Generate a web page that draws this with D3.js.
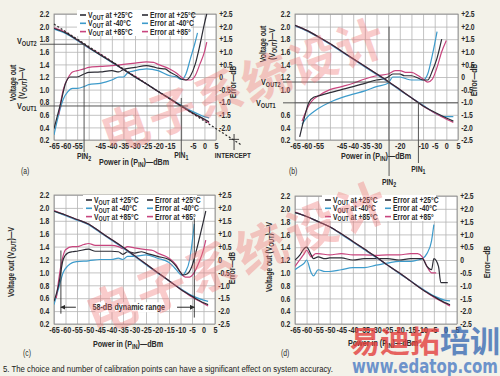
<!DOCTYPE html>
<html><head><meta charset="utf-8">
<script src="https://cdn.jsdelivr.net/npm/d3@7"></script>
<style>
body{margin:0;background:#f3f2e9;}
svg{display:block;font-family:"Liberation Sans",Arial,sans-serif;}
</style></head><body>
<svg id="fig" width="500" height="376"></svg>
<script>
// axes values
const xDomain = [-65, 5];
const vDomain = [0.2, 2.2];
const eDomain = [-2.5, 2.5];
const gridX = [-65,-60,-55,-50,-45,-40,-35,-30,-25,-20,-15,-10,-5,0,5];
const gridV = [0.2,0.4,0.6,0.8,1.0,1.2,1.4,1.6,1.8,2.0,2.2];
const gridE = [-2.5,-2,-1.5,-1,-0.5,0,0.5,1,1.5,2,2.5];

const xTicksA = [-65,-60,-55,-45,-40,-35,-30,-25,-20,-15,-5,0,5];
const xTicksB = [-65,-60,-55,-45,-40,-35,-30,-20,-10,-5,0,5];
const vTicksB = [0.2,0.4,0.6,1.0,1.2,1.4,1.6,1.8,2.0,2.2];
const eTicksA = [-2,-1.5,-1,-0.5,0,0.5,1,1.5,2,2.5];

// legend labels
const legendTemps = ["+25°C", "-40°C", "+85°C"];
const legendErrTemps = ["+25°C", "-40°C", "+85°"];

// (a) two-point calibration at -52 / -10 dBm
const voutA25 = [[-65,1.97],[-60,1.9],[-55,1.79],[-50,1.67],[-45,1.55],[-40,1.44],[-35,1.32],[-30,1.2],[-25,1.09],[-20,0.97],[-15,0.86],[-10,0.74],[-5,0.63],[0,0.53],[2,0.49]];
const voutA40 = [[-65,1.96],[-60,1.89],[-55,1.78],[-50,1.66],[-45,1.55],[-40,1.43],[-35,1.32],[-30,1.2],[-25,1.09],[-20,0.97],[-15,0.86],[-10,0.75],[-5,0.65],[-2,0.6],[0,0.57],[2,0.55]];
const voutA85 = [[-65,1.98],[-60,1.91],[-55,1.79],[-50,1.67],[-45,1.56],[-40,1.44],[-35,1.32],[-30,1.21],[-25,1.09],[-20,0.97],[-15,0.85],[-10,0.73],[-5,0.62],[0,0.52],[2,0.47]];
const fitA = [[-65,2.04],[16,0.12]];
const errA25 = [[-65,-2.05],[-62,-1.0],[-60,-0.25],[-58,0],[-55,0],[-52,0.12],[-50,0.18],[-45,0.2],[-40,0.25],[-37,0.2],[-35,0.3],[-30,0.38],[-25,0.45],[-22,0.4],[-20,0.35],[-17,0.32],[-15,0.2],[-12,0.05],[-10,-0.08],[-8,-0.12],[-6,0.05],[-4,0.5],[-2,1.25],[0,2.12],[1,2.5]];
const errA40 = [[-65,-2.3],[-63,-1.5],[-61,-0.88],[-59,-0.58],[-57,-0.45],[-55,-0.45],[-52,-0.38],[-50,-0.3],[-45,-0.25],[-40,-0.12],[-37,0],[-35,0],[-33,0.18],[-30,0.25],[-25,0.32],[-20,0.25],[-15,0.05],[-12,0],[-10,-0.1],[-8,0.12],[-6,0.75],[-4,1.38],[-3,1.75]];
const errA85 = [[-63,-1.5],[-61,-0.5],[-59,-0.05],[-57,0.2],[-55,0.25],[-52,0.32],[-50,0.38],[-45,0.42],[-40,0.45],[-35,0.5],[-30,0.55],[-25,0.6],[-22,0.58],[-20,0.5],[-15,0.32],[-12,0.15],[-10,0],[-8,-0.12],[-6,-0.12],[-4,0.05],[-2,0.5],[0,1.0],[1,1.38]];

// (b) calibration at -25 / -12 dBm
const voutB25 = [[-65,2.02],[-60,1.94],[-55,1.84],[-50,1.73],[-45,1.61],[-40,1.49],[-35,1.37],[-30,1.25],[-25,1.13],[-20,1.0],[-15,0.87],[-10,0.74],[-5,0.64],[0,0.55],[3,0.5]];
const voutB40 = [[-65,2.01],[-60,1.93],[-55,1.83],[-50,1.72],[-45,1.6],[-40,1.48],[-35,1.36],[-30,1.24],[-25,1.12],[-20,0.99],[-15,0.87],[-10,0.75],[-5,0.63],[-2,0.58],[0,0.57],[3,0.57]];
const voutB85 = [[-65,2.02],[-60,1.94],[-55,1.84],[-50,1.73],[-45,1.61],[-40,1.49],[-35,1.37],[-30,1.25],[-25,1.13],[-20,1.0],[-15,0.87],[-10,0.74],[-5,0.63],[0,0.53],[3,0.48]];
const errB25 = [[-63,-2.38],[-61,-1.62],[-59,-1.0],[-57,-0.8],[-55,-0.75],[-50,-0.62],[-45,-0.5],[-40,-0.38],[-35,-0.25],[-30,-0.12],[-27,-0.08],[-25,0],[-23,0.12],[-20,0.12],[-18,0.05],[-15,0.05],[-12,-0.05],[-10,-0.12],[-8,-0.12],[-6,0.25],[-4,0.75],[-2,1.5]];
const errB40 = [[-62,-1.88],[-60,-1.62],[-57,-1.38],[-55,-1.25],[-50,-1.0],[-45,-0.82],[-40,-0.68],[-35,-0.55],[-30,-0.38],[-25,-0.25],[-23,0],[-20,0],[-18,-0.05],[-15,-0.12],[-12,-0.12],[-10,-0.12],[-8,0.12],[-6,0.88],[-4,1.8]];
const errB85 = [[-62,-1.75],[-59,-1.12],[-57,-0.88],[-55,-0.75],[-50,-0.5],[-45,-0.38],[-40,-0.25],[-35,-0.08],[-30,0.05],[-25,0.12],[-22,0.25],[-20,0.25],[-17,0.18],[-15,0.18],[-12,0.05],[-10,-0.08],[-8,-0.2],[-6,-0.08],[-4,0.38],[-2,1.0],[0,1.45]];

// (c) 58-dB dynamic range
const voutC25 = [[-65,1.95],[-60,1.89],[-55,1.82],[-50,1.75],[-45,1.63],[-40,1.51],[-35,1.39],[-30,1.26],[-25,1.13],[-20,1.0],[-15,0.87],[-10,0.74],[-5,0.63],[0,0.53],[2,0.5]];
const voutC40 = [[-65,1.95],[-60,1.88],[-55,1.81],[-50,1.74],[-45,1.62],[-40,1.5],[-35,1.38],[-30,1.25],[-25,1.12],[-20,0.99],[-15,0.87],[-10,0.75],[-5,0.64],[0,0.57],[2,0.55]];
const voutC85 = [[-65,1.96],[-60,1.89],[-55,1.82],[-50,1.75],[-45,1.63],[-40,1.51],[-35,1.39],[-30,1.26],[-25,1.13],[-20,1.0],[-15,0.87],[-10,0.74],[-5,0.62],[0,0.52],[2,0.48]];
const errC25 = [[-65,-1.62],[-63,-1.0],[-61,0],[-59,0.25],[-57,0.3],[-55,0.32],[-50,0.4],[-47,0.32],[-45,0.32],[-40,0.32],[-37,0.3],[-35,0.2],[-33,0.3],[-30,0.25],[-27,0.3],[-25,0.25],[-20,0.12],[-15,0],[-12,-0.25],[-10,-0.5],[-9,-0.6],[-7,-0.55],[-5,-0.25],[-3,0.38],[-1,1.12],[1,1.88]];
const errC40 = [[-65,-1.75],[-63,-1.12],[-61,-0.5],[-59,-0.25],[-57,-0.12],[-55,-0.08],[-50,-0.05],[-45,0],[-40,0],[-37,0.05],[-35,0],[-33,0.12],[-30,0.12],[-25,0.18],[-20,0.05],[-15,-0.12],[-12,-0.38],[-10,-0.58],[-9,-0.62],[-8,-0.5],[-6,0],[-5,0.62],[-4,1.38]];
const errC85 = [[-64,-1.5],[-62,-0.25],[-60,0.38],[-57,0.5],[-55,0.5],[-52,0.58],[-50,0.62],[-47,0.55],[-45,0.55],[-40,0.55],[-37,0.5],[-35,0.42],[-33,0.5],[-30,0.45],[-25,0.38],[-22,0.35],[-20,0.25],[-15,0.05],[-12,-0.2],[-10,-0.5],[-8,-0.68],[-6,-0.68],[-4,-0.5],[-2,-0.12],[0,0.38],[1,0.75]];
const rangeC = [-62, -4];

// (d)
const voutD25 = [[-65,1.94],[-60,1.88],[-55,1.8],[-50,1.72],[-45,1.61],[-40,1.49],[-35,1.37],[-30,1.25],[-25,1.12],[-20,1.0],[-15,0.87],[-10,0.74],[-5,0.63],[0,0.53],[2,0.5]];
const voutD40 = [[-65,1.94],[-60,1.88],[-55,1.8],[-50,1.72],[-45,1.6],[-40,1.48],[-35,1.36],[-30,1.24],[-25,1.12],[-20,0.99],[-15,0.87],[-10,0.75],[-5,0.64],[0,0.57],[2,0.56]];
const voutD85 = [[-65,1.95],[-60,1.88],[-55,1.8],[-50,1.72],[-45,1.61],[-40,1.49],[-35,1.37],[-30,1.25],[-25,1.12],[-20,1.0],[-15,0.87],[-10,0.74],[-5,0.62],[0,0.52],[2,0.48]];
const errD25 = [[-65,0],[-63,0.18],[-61,0.45],[-60,0.5],[-58,0.2],[-57,0.05],[-55,0.12],[-52,0.05],[-50,0.08],[-45,0.08],[-40,0],[-35,0.05],[-30,0.05],[-25,0.05],[-20,0],[-15,0.05],[-12,0.05],[-10,0.05],[-8,-0.25],[-6,-0.38],[-5,0.05],[-3,-0.25],[-2,-0.88],[1,-0.88]];
const errD40 = [[-65,-0.38],[-63,-0.25],[-61,-0.12],[-60,0],[-58,-0.5],[-57,-0.62],[-55,-0.38],[-52,-0.45],[-50,-0.45],[-45,-0.38],[-40,-0.3],[-35,-0.3],[-30,-0.2],[-25,-0.12],[-20,-0.05],[-15,-0.05],[-12,0],[-10,0.05],[-8,0.25],[-6,0.75],[-5,1.38]];
const errD85 = [[-65,-0.25],[-63,0],[-61,0.25],[-60,0.38],[-58,0.12],[-56,0.25],[-55,0.25],[-50,0.2],[-45,0.25],[-40,0.2],[-35,0.2],[-30,0.18],[-25,0.2],[-20,0.2],[-15,0.25],[-12,0.25],[-10,0.12],[-8,-0.25],[-6,-0.5],[-4,-0.5]];

const col = {k: "#2c2c35", b: "#3d9bcb", m: "#c8457e"};
const ink = "#2a2a2a";
const SX = 0.8;   // condensed look
const svg = d3.select("#fig");

function sub(sel, main, s, rest, fs) {
  sel.append("tspan").text(main);
  sel.append("tspan").attr("font-size", fs * 0.78).attr("dy", fs * 0.22).text(s);
  if (rest) sel.append("tspan").attr("dy", -fs * 0.22).text(rest);
}
function label(g, x, y, size, anchor, rot, sx) {
  return g.append("text")
    .attr("transform", `translate(${x},${y})${rot ? " rotate(" + rot + ")" : ""} scale(${sx || SX},1)`)
    .attr("font-size", size).attr("font-weight", "bold").attr("fill", ink).attr("text-anchor", anchor || "start");
}

function panel(cfg) {
  const x = d3.scaleLinear().domain(xDomain).range([cfg.x0, cfg.x1]);
  const yV = d3.scaleLinear().domain(vDomain).range([cfg.y1, cfg.y0]);
  const yE = d3.scaleLinear().domain(eDomain).range([cfg.y1, cfg.y0]);
  const h = cfg.y1 - cfg.y0, w = cfg.x1 - cfg.x0;
  const g = svg.append("g");

  g.append("rect").attr("x", cfg.x0).attr("y", cfg.y0).attr("width", w).attr("height", h).attr("fill", "#fff");

  // grid
  g.append("g").attr("transform", `translate(0,${cfg.y1})`)
    .call(d3.axisBottom(x).tickValues(gridX).tickSize(-h).tickFormat(""))
    .call(s => s.select(".domain").remove())
    .selectAll("line").attr("stroke", "#b4b4b4").attr("stroke-width", 0.8);
  g.append("g").attr("transform", `translate(${cfg.x0},0)`)
    .call(d3.axisLeft(yV).tickValues(gridV).tickSize(-w).tickFormat(""))
    .call(s => s.select(".domain").remove())
    .selectAll("line").attr("stroke", "#b4b4b4").attr("stroke-width", 0.8);
  g.append("rect").attr("x", cfg.x0).attr("y", cfg.y0).attr("width", w).attr("height", h)
    .attr("fill", "none").attr("stroke", "#8a8a8a").attr("stroke-width", 0.8);

  // tick labels
  const styleAxis = fs => s => {
    s.select(".domain").remove();
    s.attr("font-family", null);
    s.selectAll("text").attr("font-size", fs).attr("fill", ink).attr("font-weight", "bold")
      .attr("transform", `scale(${SX},1)`);
  };
  g.append("g").attr("transform", `translate(0,${cfg.y1})`)
    .call(d3.axisBottom(x).tickValues(cfg.xTicks || gridX).tickSize(0).tickPadding(3).tickFormat(d => String(d)))
    .call(styleAxis(9));
  g.append("g").attr("transform", `translate(${cfg.x0},0)`)
    .call(d3.axisLeft(yV).tickValues(cfg.vTicks || gridV).tickSize(0).tickPadding(6).tickFormat(d => d.toFixed(1)))
    .call(styleAxis(8.5));
  g.append("g").attr("transform", `translate(${cfg.x1},0)`)
    .call(d3.axisRight(yE).tickValues(cfg.eTicks || gridE).tickSize(0).tickPadding(4)
      .tickFormat(d => d === 0 ? "0" : (d > 0 ? "+" : "-") + Math.abs(d).toFixed(1)))
    .call(styleAxis(8.5));

  // axis titles
  sub(label(g, cfg.xtX, cfg.xtY, 9, "middle"), "Power in (P", "IN", ")—dBm", 9);
  if (cfg.twoLine) {
    label(g, cfg.ytX - 4, cfg.ytY, 8.5, "middle", -90).text("Voltage out");
    sub(label(g, cfg.ytX + 5, cfg.ytY, 8.5, "middle", -90), "(V", "OUT", ")—V", 8.5);
  } else {
    sub(label(g, cfg.ytX, cfg.ytY, 8.5, "middle", -90), "Voltage out (V", "OUT", ")—V", 8.5);
  }
  label(g, cfg.etX, cfg.etY, 8.5, "middle", -90).text("Error—dB");
  label(g, cfg.tagX, cfg.tagY, 8.5).attr("font-weight", "normal").text(cfg.tag);

  // series
  const lineV = d3.line().x(d => x(d[0])).y(d => yV(d[1])).curve(d3.curveMonotoneX);
  const lineE = d3.line().x(d => x(d[0])).y(d => yE(d[1])).curve(d3.curveMonotoneX);
  const series = [
    [cfg.err[1], col.b, lineE], [cfg.err[2], col.m, lineE], [cfg.err[0], col.k, lineE],
    [cfg.vout[1], col.b, lineV], [cfg.vout[2], col.m, lineV], [cfg.vout[0], col.k, lineV]
  ];
  const clipId = "clip" + cfg.tag.replace(/\W/g, "");
  g.append("clipPath").attr("id", clipId).append("rect")
    .attr("x", cfg.x0).attr("y", cfg.y0 - 2).attr("width", w + 1).attr("height", h + 4);
  const lg = g.append("g").attr("clip-path", `url(#${clipId})`);
  series.forEach(([d, c, fn]) => {
    lg.append("path").datum(d).attr("d", fn).attr("fill", "none").attr("stroke", c).attr("stroke-width", 1.2);
  });

  // legend
  if (cfg.legend) {
    const L = cfg.legend;
    g.append("rect").attr("x", L.x - 3).attr("y", L.y - 5).attr("width", L.w).attr("height", 26).attr("fill", "#fff");
    [col.k, col.b, col.m].forEach((c, i) => {
      const yy = L.y + i * 8.3;
      g.append("line").attr("x1", L.x).attr("x2", L.x + 6).attr("y1", yy).attr("y2", yy).attr("stroke", c).attr("stroke-width", 1.6);
      sub(label(g, L.x + 8, yy + 3, 8.5), "V", "OUT", " at " + legendTemps[i], 8.5);
      g.append("line").attr("x1", L.x2).attr("x2", L.x2 + 6).attr("y1", yy).attr("y2", yy).attr("stroke", c).attr("stroke-width", 1.6);
      label(g, L.x2 + 8, yy + 3, 8.5).text("Error at " + legendErrTemps[i]);
    });
  }
  return {g, x, yV, yE};
}

function calib(p, pin, vout, x0, yTop, yBot, xEnd) {
  p.g.append("line").attr("x1", x0).attr("x2", xEnd).attr("y1", p.yV(vout)).attr("y2", p.yV(vout)).attr("stroke", "#444").attr("stroke-width", 0.9);
  p.g.append("line").attr("x1", p.x(pin)).attr("x2", p.x(pin)).attr("y1", yTop).attr("y2", yBot).attr("stroke", "#444").attr("stroke-width", 0.9);
}
function outLabel(p, x, y, s) { sub(label(p.g, x, y, 9), "V", s, null, 9); }
function pinLabel(p, x, y, s) { sub(label(p.g, x, y, 8.5, "middle"), "PIN", s, null, 8.5); }

// ---- (a)
const pa = panel({x0: 54, x1: 216, y0: 14, y1: 140, xTicks: xTicksA, eTicks: eTicksA,
  xtX: 134, xtY: 165, ytX: 20, ytY: 83, twoLine: true, etX: 236, etY: 82, tag: "(a)", tagX: 21, tagY: 174,
  vout: [voutA25, voutA40, voutA85], err: [errA25, errA40, errA85],
  legend: {x: 80, x2: 142, y: 15, w: 114}});
pa.g.append("path").datum(fitA).attr("d", d3.line().x(d => pa.x(d[0])).y(d => pa.yV(d[1])))
  .attr("stroke", ink).attr("stroke-width", 1.2).attr("stroke-dasharray", "2,2").attr("fill", "none");
calib(pa, -52, 1.72, 40, pa.yV(1.72), 152, pa.x(-52));
calib(pa, -10, 0.74, 40, pa.yV(0.74) - 8, 152, pa.x(-7));
outLabel(pa, 17, 44, "OUT2");
outLabel(pa, 17, 109, "OUT1");
pinLabel(pa, pa.x(-52), 159, "2");
pinLabel(pa, pa.x(-10), 158, "1");
// intercept marker
pa.g.append("line").attr("x1", pa.x(12.8)).attr("x2", pa.x(12.8)).attr("y1", 134).attr("y2", 150).attr("stroke", ink).attr("stroke-width", 0.9);
pa.g.append("line").attr("x1", pa.x(12.8) - 5).attr("x2", pa.x(12.8) + 5).attr("y1", pa.yV(0.21)).attr("y2", pa.yV(0.21)).attr("stroke", ink).attr("stroke-width", 0.9);
label(pa.g, pa.x(12.3), 158, 8, "middle").text("INTERCEPT");

// ---- (b)
const pb = panel({x0: 295, x1: 458, y0: 14, y1: 140, xTicks: xTicksB, vTicks: vTicksB,
  xtX: 376, xtY: 159, ytX: 270, ytY: 44, twoLine: true, etX: 477, etY: 80, tag: "(b)", tagX: 289, tagY: 174,
  vout: [voutB25, voutB40, voutB85], err: [errB25, errB40, errB85]});
calib(pb, -24.6, 1.12, 283, pb.yV(2.0), 176, pb.x(-24.6));
calib(pb, -12, 0.79, 283, pb.yV(0.79), 163, pb.x(5));
outLabel(pb, 261, 85, "OUT2");
outLabel(pb, 256, 106, "OUT1");
pinLabel(pb, pb.x(-24.6), 185, "2");
pinLabel(pb, pb.x(-12), 172, "1");

// ---- (c)
const pc = panel({x0: 54, x1: 215, y0: 195, y1: 324,
  xtX: 128, xtY: 347, ytX: 14, ytY: 262, twoLine: false, etX: 235, etY: 268, tag: "(c)", tagX: 23, tagY: 356,
  vout: [voutC25, voutC40, voutC85], err: [errC25, errC40, errC85],
  legend: {x: 86, x2: 147, y: 200, w: 114}});
pc.g.append("line").attr("x1", pc.x(rangeC[0])).attr("x2", pc.x(rangeC[0])).attr("y1", pc.yV(1.34)).attr("y2", pc.yV(0.36)).attr("stroke", ink).attr("stroke-width", 0.9);
pc.g.append("line").attr("x1", pc.x(rangeC[1])).attr("x2", pc.x(rangeC[1])).attr("y1", pc.yV(1.84)).attr("y2", pc.yV(0.3)).attr("stroke", ink).attr("stroke-width", 0.9);
svg.append("defs").append("marker").attr("id", "arr").attr("viewBox", "0 0 10 10").attr("refX", 9).attr("refY", 5)
  .attr("markerWidth", 5).attr("markerHeight", 5).attr("orient", "auto-start-reverse")
  .append("path").attr("d", "M0,0L10,5L0,10z").attr("fill", ink);
const arrowY = pc.yV(0.46);
pc.g.append("rect").attr("x", pc.x(-47)).attr("y", arrowY - 5).attr("width", pc.x(-18) - pc.x(-47)).attr("height", 10).attr("fill", "#fff");
pc.g.append("line").attr("x1", pc.x(-55.5)).attr("x2", pc.x(rangeC[0])).attr("y1", arrowY).attr("y2", arrowY).attr("stroke", ink).attr("marker-end", "url(#arr)");
pc.g.append("line").attr("x1", pc.x(-11.5)).attr("x2", pc.x(rangeC[1])).attr("y1", arrowY).attr("y2", arrowY).attr("stroke", ink).attr("marker-end", "url(#arr)");
label(pc.g, pc.x(-32.5), arrowY + 3, 9, "middle").text((rangeC[1] - rangeC[0]) + "-dB dynamic range");

// ---- (d)
const pd = panel({x0: 295, x1: 457, y0: 196, y1: 324,
  xtX: 383, xtY: 346, ytX: 272, ytY: 257, twoLine: false, etX: 490, etY: 262, tag: "(d)", tagX: 281, tagY: 356,
  vout: [voutD25, voutD40, voutD85], err: [errD25, errD40, errD85],
  legend: {x: 325, x2: 385, y: 200, w: 114}});

// caption
label(svg, 3, 372, 9.5, "start", null, 0.82).attr("fill", "#222").attr("font-weight", "normal")
  .text("5. The choice and number of calibration points can have a significant effect on system accuracy.");

// watermarks
const wm = svg.append("g").attr("font-family", "Noto Sans CJK SC").attr("font-weight", "bold").attr("fill", "#f07878").attr("opacity", 0.38);
wm.append("text").attr("transform", "translate(245,90) rotate(-20)").attr("text-anchor", "middle").attr("dominant-baseline", "middle")
  .attr("font-size", 48).attr("letter-spacing", 2).text("电子系统设计");
wm.append("text").attr("transform", "translate(240,262) rotate(-22)").attr("text-anchor", "middle").attr("dominant-baseline", "middle")
  .attr("font-size", 50).attr("letter-spacing", 4).text("电子系统设计");
const logo = svg.append("text").attr("x", 350).attr("y", 352).attr("font-family", "Noto Sans CJK SC").attr("font-weight", "bold")
  .attr("font-size", 30).attr("textLength", 150).attr("lengthAdjust", "spacingAndGlyphs").attr("opacity", 0.8);
logo.append("tspan").attr("fill", "#e3403d").text("易迪拓");
logo.append("tspan").attr("fill", "#3c6db4").text("培训");
svg.append("text").attr("x", 352).attr("y", 373).attr("font-family", "DejaVu Sans").attr("font-weight", "bold")
  .attr("font-size", 19).attr("fill", "#4b7cc4").attr("opacity", 0.8).attr("textLength", 146).attr("lengthAdjust", "spacingAndGlyphs")
  .text("www.edatop.com");
</script>
</body></html>
